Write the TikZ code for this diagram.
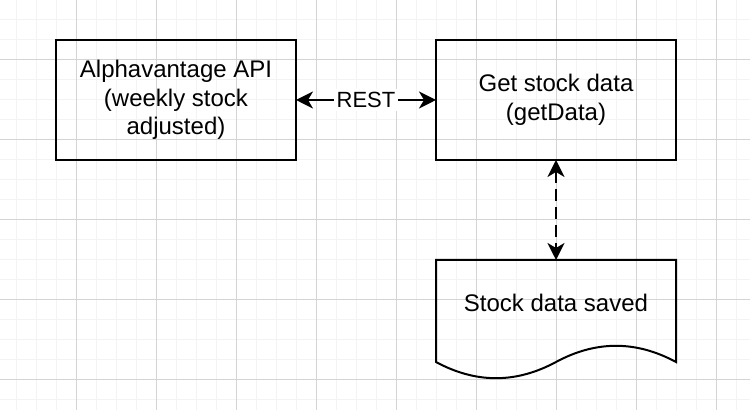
\documentclass[tikz,border=0pt]{standalone}
\usepackage{fontspec}
\setmainfont{Liberation Sans}
\usetikzlibrary{arrows.meta,positioning}
\definecolor{rejillafina}{HTML}{F3F3F3}
\definecolor{rejillagruesa}{HTML}{D4D4D4}

\begin{document}
\begin{tikzpicture}[x=0.5pt,y=-0.5pt,
  caja/.style={draw,line width=1pt,minimum width=120pt,minimum height=60pt,
    inner sep=0pt,outer sep=0pt,align=center,font=\fontsize{12}{14.4}\selectfont},
  flecha/.style={line width=1pt,{Stealth[length=8.5pt,width=8.5pt,inset=2.5pt]}-{Stealth[length=8.5pt,width=8.5pt,inset=2.5pt]}}]

\useasboundingbox (0,0) rectangle (750,410);

%cuadricula fina
\foreach \x in {16,36,...,736}
	\draw [rejillafina,line width=0.5pt] (\x,0) -- (\x,410);
\foreach \y in {0,20,...,400}
	\draw [rejillafina,line width=0.5pt] (0,\y) -- (750,\y);
%cuadricula gruesa
\foreach \x in {76,156,...,716}
	\draw [rejillagruesa,line width=0.5pt] (\x,0) -- (\x,410);
\foreach \y in {60,140,...,380}
	\draw [rejillagruesa,line width=0.5pt] (0,\y) -- (750,\y);

%cajas de arriba
\node [caja] (api) at (176,100) {Alphavantage API\\(weekly stock\\adjusted)};
\node [caja,right=70pt of api] (getdata) {Get stock data\\(getData)};

%documento con borde ondulado
\node [minimum width=120pt,minimum height=60pt,inner sep=0pt,outer sep=0pt,below=50pt of getdata] (doc) {};
\draw [line width=1pt] (doc.north west) -- (doc.north east) -- ([yshift=9pt]doc.south east)
	.. controls +(-40,-21.6) and +(40,-21.6) .. ([yshift=9pt]doc.south)
	.. controls +(-40,21.6) and +(40,21.6) .. ([yshift=9pt]doc.south west) -- cycle;
\node [font=\fontsize{12}{14.4}\selectfont] (doctexto) at ([yshift=8.5pt]doc.center) {Stock data saved};

%conectores
\draw [flecha] (api) -- node [fill=white,inner sep=1.5pt,font=\fontsize{11}{13.2}\selectfont] (rest) {REST} (getdata);
\draw [flecha,dash pattern=on 6pt off 3pt] (getdata) -- (doc);
\end{tikzpicture}
\end{document}
